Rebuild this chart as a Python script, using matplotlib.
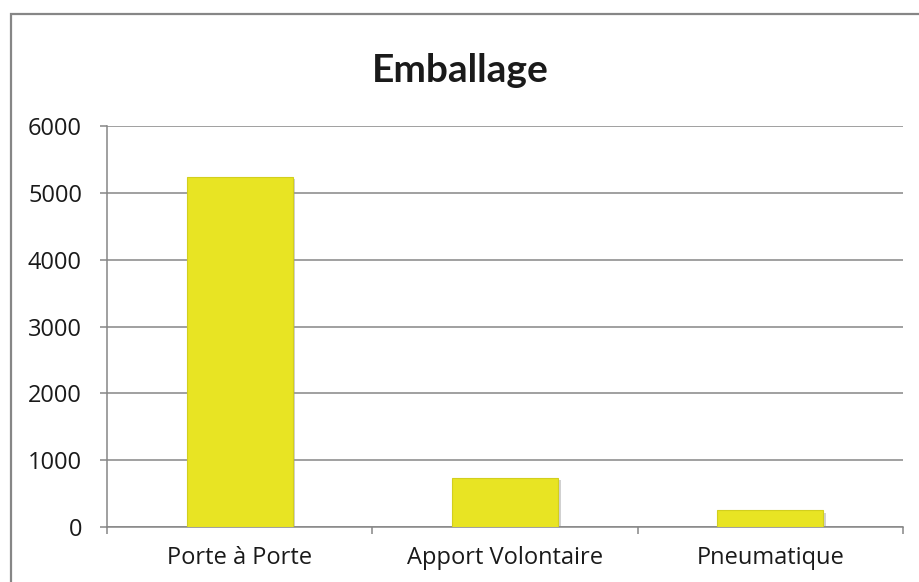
import matplotlib
matplotlib.use("Agg")
import matplotlib.pyplot as plt
from matplotlib.patches import Rectangle

categories = ["Porte à Porte", "Apport Volontaire", "Pneumatique"]
values = [5240, 740, 250]
yticks = [0, 1000, 2000, 3000, 4000, 5000, 6000]
title = "Emballage"

plt.rcParams['font.family'] = ['Open Sans', 'DejaVu Sans']
W, H = 919, 582
fig = plt.figure(figsize=(W / 100, H / 100), dpi=100)
ax = fig.add_axes([107 / W, (H - 527) / H, (903 - 107) / W, (527 - 126) / H])

grid_c = '#868686'
x = list(range(len(categories)))
# subtle shadow
ax.bar([i + 0.01 for i in x], values, width=0.4, color='#9a9a9a', alpha=0.45,
       bottom=[-35] * len(values), zorder=2)
ax.bar(x, values, width=0.4, color='#E8E423', edgecolor='#D2CF1E', linewidth=0.8, zorder=3)

ax.set_xlim(-0.5, len(categories) - 0.5)
ax.set_ylim(0, 6000)
ax.set_yticks(yticks)
ax.set_yticklabels([str(v) for v in yticks])
ax.yaxis.grid(True, color=grid_c, linewidth=1.1, zorder=0)
ax.set_axisbelow(True)

ax.set_xticks([-0.5, 0.5, 1.5, 2.5], minor=False)
ax.set_xticklabels([])
ax.set_xticks(x, minor=True)
ax.set_xticklabels(categories, minor=True, fontsize=17, color='#1a1a1a')
ax.tick_params(axis='x', which='major', length=5, color=grid_c, width=1.1, direction='out')
ax.tick_params(axis='x', which='minor', length=0, pad=14)
ax.tick_params(axis='y', length=5, color=grid_c, width=1.1, direction='out', pad=13,
               labelsize=17, labelcolor='#1a1a1a')

for s in ['top', 'right']:
    ax.spines[s].set_visible(False)
for s in ['left', 'bottom']:
    ax.spines[s].set_color(grid_c)
    ax.spines[s].set_linewidth(1.1)

fig.text(460 / W, 1 - 70 / H, title, ha='center', va='center', fontsize=28,
         fontweight='bold', color='#1a1a1a', family=['Lato', 'DejaVu Sans'])

fig.patches.append(Rectangle((11 / W, -0.1), 1.2, (H - 14) / H + 0.1,
                             transform=fig.transFigure, fill=False,
                             edgecolor=grid_c, linewidth=1.6, zorder=0))

fig.savefig("out.png", dpi=100)
